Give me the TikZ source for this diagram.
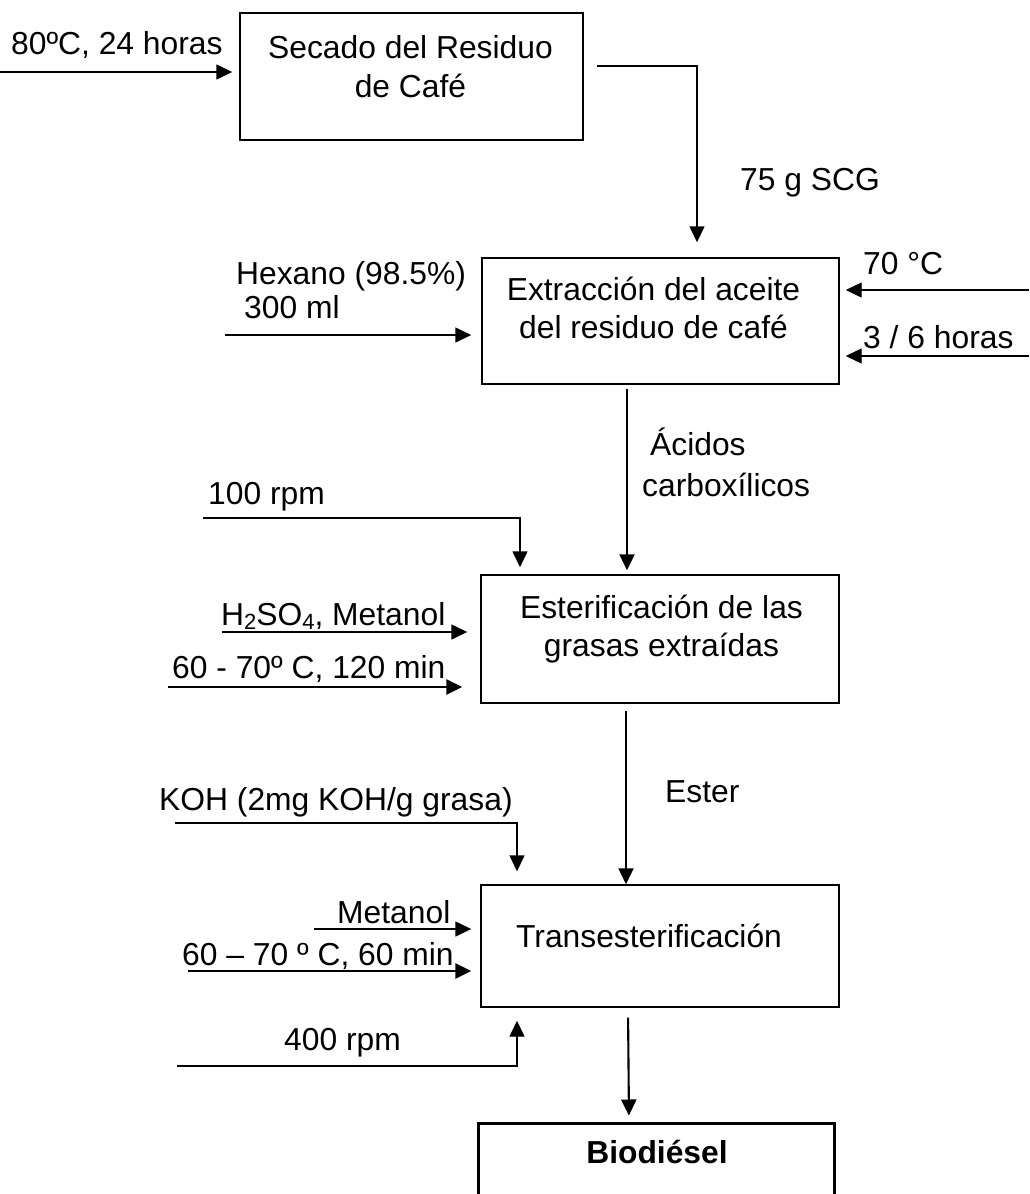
\documentclass[tikz,border=0pt]{standalone}
\usepackage{fontspec}
\setmainfont{Liberation Sans}
\usetikzlibrary{arrows.meta}
\begin{document}
\begin{tikzpicture}[x=1pt,y=-1pt,
  box/.style={draw, line width=1.4pt, inner sep=0pt},
  lbl/.style={inner sep=0pt, font=\fontsize{31.8}{38}\selectfont},
  arr/.style={-{Triangle[length=16pt,width=15pt]}, line width=1.4pt},
  thickarr/.style={arr, line width=2.8pt},
  mainarr/.style={arr, line width=2.1pt}]
\clip (0,0) rectangle (1029,1194);
\fill[white] (0,0) rectangle (1029,1194);

% boxes
\node[box, minimum width=343pt, minimum height=127pt] (b1) at (411.5,76.5) {};
\node[box, minimum width=357pt, minimum height=126pt] (b2) at (660.5,321) {};
\node[box, minimum width=358pt, minimum height=128pt] (b3) at (660,639) {};
\node[box, minimum width=358pt, minimum height=122pt] (b4) at (660,946) {};
\node[box, line width=3pt, minimum width=356pt, minimum height=90pt] (b5) at (656,1168) {};

% box texts
\node[lbl, anchor=base] (t1a) at (410.5,58) {Secado del Residuo};
\node[lbl, anchor=base] (t1b) at (410.5,97) {de Café};
\node[lbl, anchor=base] (t2a) at (653.5,300) {Extracción del aceite};
\node[lbl, anchor=base] (t2b) at (653.5,338) {del residuo de café};
\node[lbl, anchor=base] (t3a) at (661.5,618) {Esterificación de las};
\node[lbl, anchor=base] (t3b) at (661.5,656) {grasas extraídas};
\node[lbl, anchor=base west] (t4) at (516,947) {Transesterificación};
\node[lbl, anchor=base, font=\fontsize{31.8}{38}\selectfont\bfseries] (t5) at (657,1163) {Biodiésel};

% side labels
\node[lbl, anchor=base west] (l1) at (11,54) {80ºC, 24 horas};
\node[lbl, anchor=base west] (l2) at (740,190) {75 g SCG};
\node[lbl, anchor=base west] (l3) at (863,274) {70 °C};
\node[lbl, anchor=base west] (l4) at (863,348) {3 / 6 horas};
\node[lbl, anchor=base west] (l5a) at (236,284) {Hexano (98.5\%)};
\node[lbl, anchor=base west] (l5b) at (244,318) {300 ml};
\node[lbl, anchor=base west] (l6a) at (650,455) {Ácidos};
\node[lbl, anchor=base west] (l6b) at (642,496) {carboxílicos};
\node[lbl, anchor=base west] (l7) at (208,504) {100 rpm};
\node[lbl, anchor=base west] (l8) at (221,625) {H\raisebox{-0.25ex}{\fontsize{22}{22}\selectfont$\mathrm{2}$}SO\raisebox{-0.25ex}{\fontsize{22}{22}\selectfont$\mathrm{4}$}, Metanol};
\node[lbl, anchor=base west] (l9) at (172,678) {60 - 70º C, 120 min};
\node[lbl, anchor=base west] (l10) at (665,802) {Ester};
\node[lbl, anchor=base west] (l11) at (159,810) {KOH (2mg KOH/g grasa)};
\node[lbl, anchor=base west] (l12) at (337,923) {Metanol};
\node[lbl, anchor=base west] (l13) at (182,965) {60 – 70 º C, 60 min};
\node[lbl, anchor=base west] (l14) at (284,1050) {400 rpm};

% free ends
\coordinate (i1) at (0,72);
\coordinate (i3) at (1029,290);
\coordinate (i4) at (1029,356);
\coordinate (i5) at (225,335);
\coordinate (i7) at (203,518);
\coordinate (i8) at (222,632);
\coordinate (i9) at (168,687);
\coordinate (i11) at (175,823);
\coordinate (i12) at (314,929);
\coordinate (i13) at (188,971);
\coordinate (i14) at (177,1066);

% connectors
\draw[arr, shorten >=7pt] (i1) -- (b1.west |- i1);
\draw[arr, shorten <=13pt, shorten >=15pt] (b1.east |- 0,66) -| (b2.north -| 697,0);
\draw[arr, shorten >=6pt] (i3) -- (b2.east |- i3);
\draw[arr, shorten >=6pt] (i4) -- (b2.east |- i4);
\draw[arr, shorten >=10pt] (i5) -- (b2.west |- i5);
\draw[mainarr, shorten <=4pt, shorten >=4pt] (b2.south -| 627,0) -- (b3.north -| 627,0);
\draw[arr, shorten >=7pt] (i7) -| (b3.north -| 520,0);
\draw[arr, shorten >=13pt] (i8) -- (b3.west |- i8);
\draw[thickarr, shorten >=18pt] (i9) -- (b3.west |- i9);
\draw[mainarr, shorten <=7pt] (b3.south -| 626,0) -- (b4.north -| 626,0);
\draw[arr, shorten >=13pt] (i11) -| (b4.north -| 517,0);
\draw[arr, shorten >=9pt] (i12) -- (b4.west |- i12);
\draw[thickarr, shorten >=9pt] (i13) -- (b4.west |- i13);
\draw[arr, shorten >=13pt] (i14) -| (b4.south -| 517,0);
\draw[mainarr, shorten <=10pt, shorten >=6pt] (b4.south -| 628,0) -- (b5.north -| 629,0);
\end{tikzpicture}
\end{document}
